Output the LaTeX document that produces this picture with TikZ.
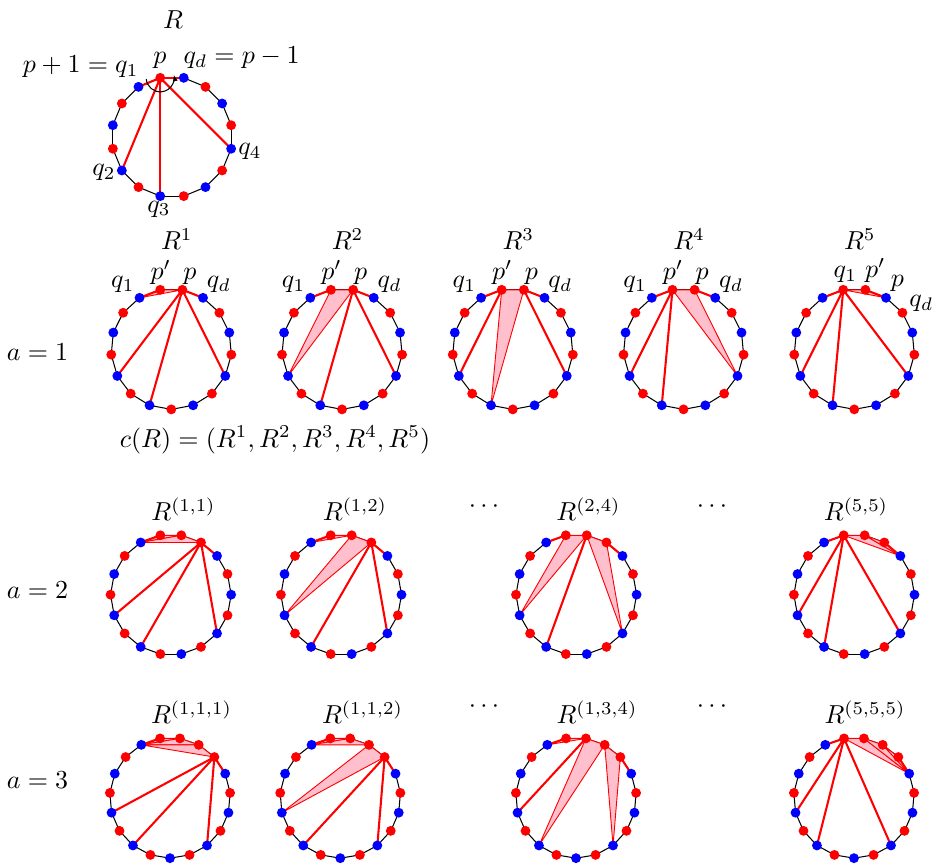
\documentclass[tikz,border=0pt]{standalone}
\usetikzlibrary{arrows.meta,calc}
\definecolor{trifill}{rgb}{1,0.75,0.8}
\tikzset{
  pedge/.style={black, line width=0.4pt},
  fan/.style={red, line width=0.8pt},
  tri/.style={draw=red, line width=0.35pt, fill=trifill},
  rdot/.style={circle, fill=red, inner sep=0pt, minimum size=3.8pt},
  bdot/.style={circle, fill=blue, inner sep=0pt, minimum size=3.8pt},
  lbl/.style={inner sep=0pt},
}
% regular (16+#4)-gon centred at (#2,#3): vertex coordinates #1-0, #1-1, ... and black sides
\newcommand{\polybase}[4]{%
  \pgfmathtruncatemacro{\pn}{16+#4}%
  \pgfmathtruncatemacro{\plast}{\pn-1}%
  \foreach \k in {0,...,\plast}{%
    \pgfmathsetmacro{\pa}{90+540/\pn+\k*360/\pn}%
    \coordinate (#1-\k) at ([shift={(#2,#3)}]\pa:60.3);
  }%
  \foreach \k in {0,...,\plast}{%
    \pgfmathtruncatemacro{\kn}{mod(\k+1,\pn)}%
    \draw[pedge] (#1-\k) -- (#1-\kn);
  }%
}
% shaded triangles, thick red connections, and the coloured vertex dots
\newcommand{\tris}[2]{\foreach \u/\v/\w in {#2} {\filldraw[tri] (#1-\u) -- (#1-\v) -- (#1-\w) -- cycle;}}
\newcommand{\fans}[2]{\foreach \u/\v in {#2} {\draw[fan] (#1-\u) -- (#1-\v);}}
\newcommand{\polydots}[2]{%
  \pgfmathtruncatemacro{\plast}{15+#2}%
  \foreach \k in {0,...,\plast}{%
    \pgfmathtruncatemacro{\isblue}{(\k<15)*(mod(\k,2)==0)}%
    \ifnum\isblue=1 \node[bdot] (#1-d\k) at (#1-\k) {};\else \node[rdot] (#1-d\k) at (#1-\k) {};\fi
  }%
}
\begin{document}
\begin{tikzpicture}[x=0.385pt, y=0.385pt]
\useasboundingbox (0,0) rectangle (935,864);

% ---------- R ----------
\polybase{R}{172}{727}{0}
\fans{R}{15/0,15/4,15/6,15/10,15/14}
\draw[black, line width=0.4pt, -{Latex[length=2.4pt,width=2pt]}]
  ([shift={(185:14)}]R-15) arc[start angle=185, end angle=372, radius=14];
\polydots{R}{0}
\node[lbl] (lR) at (173,844) {$R$};
\node[lbl, anchor=base east] (lp1) at (139,791) {$p+1=q_1$};
\node[lbl, anchor=base] (lp) at (160,800.5) {$p$};
\node[lbl, anchor=base west] (lqd) at (183,800.5) {$q_d=p-1$};
\node[lbl] (lq2) at (104,691.5) {$q_2$};
\node[lbl] (lq3) at (159,655) {$q_3$};
\node[lbl] (lq4) at (250,712.5) {$q_4$};

% ---------- a = 1 ----------
\node[lbl] (a1) at (37.5,512) {$a=1$};
\polybase{A1}{171.3}{514.9}{1}
\tris{A1}{16/15/0}
\fans{A1}{16/0,15/4,15/6,15/10,15/14}
\polydots{A1}{1}
\polybase{A2}{342.05}{514.9}{1}
\tris{A2}{16/15/4}
\fans{A2}{16/0,15/6,15/10,15/14}
\polydots{A2}{1}
\polybase{A3}{512.8}{514.9}{1}
\tris{A3}{16/15/6}
\fans{A3}{16/0,16/4,15/10,15/14}
\polydots{A3}{1}
\polybase{A4}{683.55}{514.9}{1}
\tris{A4}{16/15/10}
\fans{A4}{16/0,16/4,16/6,15/14}
\polydots{A4}{1}
\polybase{A5}{854.3}{514.9}{1}
\tris{A5}{16/15/14}
\fans{A5}{16/0,16/4,16/6,16/10,15/14}
\polydots{A5}{1}
\foreach \c/\s in {1/171.3,2/342.05,3/512.8,4/683.55}{
  \node[lbl] (t\c) at (\s+5.5,625) {$R^{\c}$};
  \node[lbl, anchor=base] (q1\c) at (\s-48.5,576) {$q_1$};
  \node[lbl, anchor=base] (pp\c) at (\s-10.5,584) {$p'$};
  \node[lbl, anchor=base] (p\c) at (\s+18.5,584) {$p$};
  \node[lbl, anchor=base] (qd\c) at (\s+47.5,576) {$q_d$};
}
\node[lbl] (t5) at (859.8,625) {$R^{5}$};
\node[lbl, anchor=base] (q15) at (845.3,586) {$q_1$};
\node[lbl, anchor=base] (pp5) at (875.3,586) {$p'$};
\node[lbl, anchor=base] (p5) at (897.3,577) {$p$};
\node[lbl, anchor=base] (qd5) at (921.3,557.5) {$q_d$};
\node[lbl] (cR) at (275,424) {$c(R)=(R^1,R^2,R^3,R^4,R^5)$};

% ---------- a = 2 ----------
\node[lbl] (a2) at (37.5,274) {$a=2$};
\polybase{B1}{170.85}{269.3}{2}
\tris{B1}{17/16/0,16/15/0}
\fans{B1}{17/0,15/4,15/6,15/10,15/14}
\polydots{B1}{2}
\polybase{B2}{341.2}{269.3}{2}
\tris{B2}{17/16/0,16/15/4}
\fans{B2}{17/0,15/6,15/10,15/14}
\polydots{B2}{2}
\polybase{B3}{576.3}{269.3}{2}
\tris{B3}{17/16/4,16/15/10}
\fans{B3}{17/0,16/6,15/14}
\polydots{B3}{2}
\polybase{B4}{854.2}{269.3}{2}
\tris{B4}{17/16/14,16/15/14}
\fans{B4}{17/0,17/4,17/6,17/10,15/14}
\polydots{B4}{2}
\node[lbl] (t11) at (183.5,355) {$R^{(1,1)}$};
\node[lbl] (t12) at (355,355) {$R^{(1,2)}$};
\node[lbl] (d2a) at (484,357) {$\cdots$};
\node[lbl] (t24) at (588.5,355) {$R^{(2,4)}$};
\node[lbl] (d2b) at (712,357) {$\cdots$};
\node[lbl] (t55) at (856,355) {$R^{(5,5)}$};

% ---------- a = 3 ----------
\node[lbl] (a3) at (37.5,84) {$a=3$};
\polybase{C1}{170}{66.1}{3}
\tris{C1}{18/17/0,17/16/0,16/15/0}
\fans{C1}{18/0,15/4,15/6,15/10,15/14}
\polydots{C1}{3}
\polybase{C2}{340.3}{66.1}{3}
\tris{C2}{18/17/0,17/16/0,16/15/4}
\fans{C2}{18/0,15/6,15/10,15/14}
\polydots{C2}{3}
\polybase{C3}{576}{66.1}{3}
\tris{C3}{18/17/0,17/16/6,16/15/10}
\fans{C3}{18/0,17/4,15/14}
\polydots{C3}{3}
\polybase{C4}{854}{66.1}{3}
\tris{C4}{18/17/14,17/16/14,16/15/14}
\fans{C4}{18/0,18/4,18/6,18/10,15/14}
\polydots{C4}{3}
\node[lbl] (t111) at (191.5,152) {$R^{(1,1,1)}$};
\node[lbl] (t112) at (362.5,152) {$R^{(1,1,2)}$};
\node[lbl] (d3a) at (484,157) {$\cdots$};
\node[lbl] (t134) at (597,152) {$R^{(1,3,4)}$};
\node[lbl] (d3b) at (712,157) {$\cdots$};
\node[lbl] (t555) at (865,152) {$R^{(5,5,5)}$};
\end{tikzpicture}
\end{document}
